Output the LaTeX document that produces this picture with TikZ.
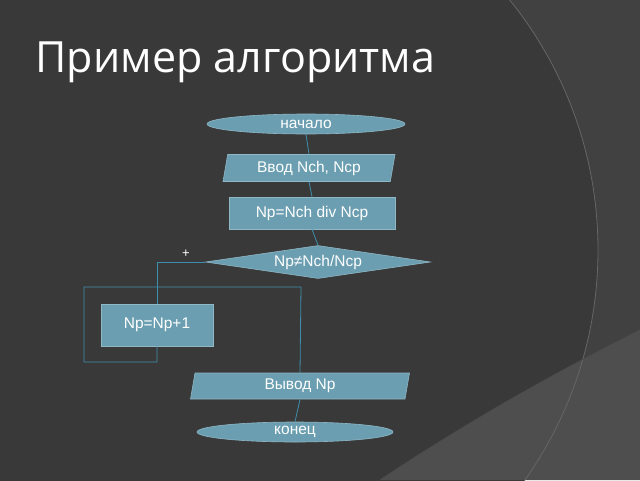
\documentclass[tikz,border=0pt]{standalone}
\usepackage{fontspec}
\setmainfont{Liberation Sans}
\newfontfamily\titlefont{Open Sans}
\usetikzlibrary{shapes.geometric}
\definecolor{bg}{HTML}{414141}
\definecolor{inner}{HTML}{393939}
\definecolor{lower}{HTML}{4E4E4E}
\definecolor{boxfill}{HTML}{6A9EB0}
\definecolor{boxline}{HTML}{8FB8C6}
\definecolor{conn}{HTML}{3E8EAE}
\begin{document}
\begin{tikzpicture}[x=1pt,y=-1pt,
  blk/.style={fill=boxfill,draw=boxline,line width=0.6pt,text=white,font=\fontsize{15.5}{18}\selectfont,inner sep=0pt},
  oval/.style={blk,ellipse},
  io/.style={blk,trapezium,trapezium left angle=72,trapezium right angle=108,trapezium stretches body},
  proc/.style={blk,rectangle},
  cond/.style={blk,diamond,aspect=6.8},
  link/.style={draw=conn,line width=0.8pt}]
\fill[bg] (0,0) rectangle (640,480);
\useasboundingbox (0,0) rectangle (640,480);
% decorative background
\begin{scope}
\clip (0,0) rectangle (640,480);
\fill[inner] (200,250) circle (398);
\fill[lower] (380,480) .. controls (470,420) and (560,370) .. (640,330) -- (640,480) -- cycle;
\draw[black!60,line width=0.8pt] (200,250) circle (398);
\draw[black!70,line width=0.8pt] (380,480) .. controls (470,420) and (560,370) .. (640,330);
\end{scope}
\node[anchor=west,text=white,font=\titlefont\fontsize{43}{48}\selectfont] (title) at (32,62) {Пример алгоритма};
\node[oval,minimum width=198pt,minimum height=20pt] (start) at (306,124) {начало};
\node[io,minimum width=172pt,minimum height=27pt] (in) at (309,168) {Ввод Nch, Ncp};
\node[proc,minimum width=166pt,minimum height=32pt] (calc) at (312,213) {Np=Nch div Ncp};
\node[cond,minimum width=225pt,minimum height=33pt] (test) at (318,262) {Np≠Nch/Ncp};
\node[proc,minimum width=112pt,minimum height=42pt] (inc) at (157,325) {Np=Np+1};
\node[io,minimum width=219pt,minimum height=26pt] (out) at (300,386) {Вывод Np};
\node[oval,minimum width=196pt,minimum height=20pt] (end) at (295,432) {конец};
\node[text=white,font=\fontsize{13}{15}\selectfont] (plus) at (186,254) {+};
\coordinate (a1) at (157,262);
\coordinate (b1) at (157,362);
\coordinate (b2) at (84,362);
\coordinate (b3) at (84,287);
\coordinate (b4) at (301,287);
\draw[link] (start.south) -- (in.north);
\draw[link] (in.south) -- (calc.north);
\draw[link] (calc.south) -- (test.north);
\draw[link] (test.west) -- (a1) -- (inc.north);
\draw[link] (inc.south) -- (b1) -- (b2) -- (b3) -- (b4) -- (out.north);
\draw[link] (out.south) -- (end.north);
\end{tikzpicture}
\end{document}
